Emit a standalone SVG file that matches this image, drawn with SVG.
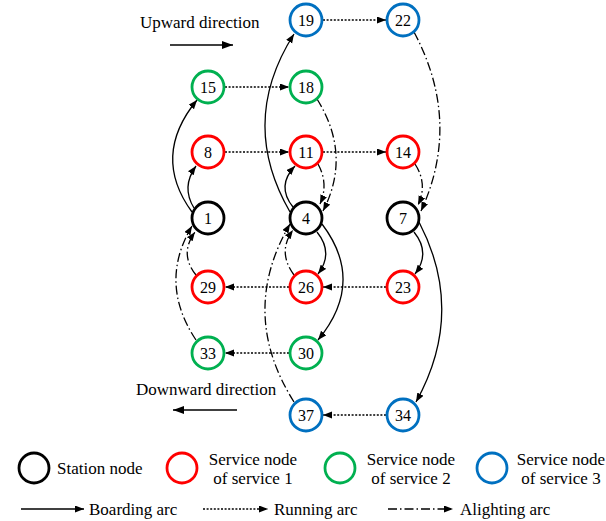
<svg xmlns="http://www.w3.org/2000/svg" width="606" height="521" viewBox="0 0 606 521">
<defs>
<marker id="ah" markerUnits="userSpaceOnUse" markerWidth="10" markerHeight="8" refX="9" refY="3.5" orient="auto">
<path d="M0,0 L9,3.5 L0,7 z" fill="#000"/>
</marker>
<marker id="ahb" markerUnits="userSpaceOnUse" markerWidth="12" markerHeight="9" refX="11" refY="4" orient="auto">
<path d="M0,0 L11,4 L0,8 z" fill="#000"/>
</marker>
<style>
.n{fill:#fff;stroke-width:2.8}
.st{stroke:#000}
.s1{stroke:#f00}
.s2{stroke:#00b050}
.s3{stroke:#0070c0}
.lbl{font-family:"Liberation Serif","Times New Roman",serif;font-size:16px;fill:#000;text-anchor:middle}
.t{font-family:"Liberation Serif","Times New Roman",serif;font-size:17px;fill:#000}
.b{fill:none;stroke:#000;stroke-width:1.3;marker-end:url(#ah)}
.r{fill:none;stroke:#000;stroke-width:1.3;stroke-dasharray:2 1.6;marker-end:url(#ah)}
.a{fill:none;stroke:#000;stroke-width:1.3;stroke-dasharray:9 3 1.5 3;marker-end:url(#ah)}
</style>
</defs>
<rect width="606" height="521" fill="#fff"/>

<g id="connectors">
<!-- running arcs -->
<path class="r" d="M323,20 L386,20"/>
<path class="r" d="M225,87 L289,87"/>
<path class="r" d="M225,152 L289,152"/>
<path class="r" d="M323,152 L386,152"/>
<path class="r" d="M386,287 L323,287"/>
<path class="r" d="M289,287 L225,287"/>
<path class="r" d="M289,353 L225,353"/>
<path class="r" d="M386,415 L323,415"/>
<!-- boarding arcs -->
<path class="b" d="M194,208 Q181,187 196,166"/>
<path class="b" d="M192,212 Q151,156 197,100"/>
<path class="b" d="M293,207 Q276,186 295,166"/>
<path class="b" d="M290,212 Q238,122 294,34"/>
<path class="b" d="M317,232 Q334,253 318,274"/>
<path class="b" d="M322,224 Q366,282 318,340"/>
<path class="b" d="M414,232 Q431,253 415,274"/>
<path class="b" d="M419,222 Q466,312 416,402"/>
<!-- alighting arcs -->
<path class="a" d="M318,164 Q329,184 320,204"/>
<path class="a" d="M317,99 Q352,155 323,211"/>
<path class="a" d="M415,164 Q428,184 418,205"/>
<path class="a" d="M414,32 Q462,122 421,211"/>
<path class="a" d="M196,275 Q179,254 195,232"/>
<path class="a" d="M196,340 Q158,283 192,226"/>
<path class="a" d="M294,275 Q277,252 293,230"/>
<path class="a" d="M294,402 Q238,313 290,224"/>
</g>

<g id="n19"><circle class="n s3" cx="306" cy="20" r="16"/><text class="lbl" x="306" y="26">19</text></g>
<g id="n22"><circle class="n s3" cx="403" cy="20" r="16"/><text class="lbl" x="403" y="26">22</text></g>
<g id="n15"><circle class="n s2" cx="208" cy="87" r="16"/><text class="lbl" x="208" y="93">15</text></g>
<g id="n18"><circle class="n s2" cx="306" cy="87" r="16"/><text class="lbl" x="306" y="93">18</text></g>
<g id="n8"><circle class="n s1" cx="208" cy="152" r="16"/><text class="lbl" x="208" y="158">8</text></g>
<g id="n11"><circle class="n s1" cx="306" cy="152" r="16"/><text class="lbl" x="306" y="158">11</text></g>
<g id="n14"><circle class="n s1" cx="403" cy="152" r="16"/><text class="lbl" x="403" y="158">14</text></g>
<g id="n1"><circle class="n st" cx="208" cy="218" r="16"/><text class="lbl" x="208" y="224">1</text></g>
<g id="n4"><circle class="n st" cx="306" cy="218" r="16"/><text class="lbl" x="306" y="224">4</text></g>
<g id="n7"><circle class="n st" cx="403" cy="218" r="16"/><text class="lbl" x="403" y="224">7</text></g>
<g id="n29"><circle class="n s1" cx="208" cy="287" r="16"/><text class="lbl" x="208" y="293">29</text></g>
<g id="n26"><circle class="n s1" cx="306" cy="287" r="16"/><text class="lbl" x="306" y="293">26</text></g>
<g id="n23"><circle class="n s1" cx="403" cy="287" r="16"/><text class="lbl" x="403" y="293">23</text></g>
<g id="n33"><circle class="n s2" cx="208" cy="353" r="16"/><text class="lbl" x="208" y="359">33</text></g>
<g id="n30"><circle class="n s2" cx="306" cy="353" r="16"/><text class="lbl" x="306" y="359">30</text></g>
<g id="n37"><circle class="n s3" cx="306" cy="415" r="16"/><text class="lbl" x="306" y="421">37</text></g>
<g id="n34"><circle class="n s3" cx="403" cy="415" r="16"/><text class="lbl" x="403" y="421">34</text></g>

<g id="directions">
<text class="t" x="140" y="28">Upward direction</text>
<path d="M170,45 L233,45" stroke="#000" stroke-width="1.5" fill="none" marker-end="url(#ahb)"/>
<text class="t" x="136" y="395">Downward direction</text>
<path d="M237,410 L173,410" stroke="#000" stroke-width="1.5" fill="none" marker-end="url(#ahb)"/>
</g>

<g id="legend">
<circle class="n st" cx="34" cy="468" r="15"/>
<text class="t" x="57" y="474">Station node</text>
<circle class="n s1" cx="182" cy="468" r="15"/>
<text class="t" x="253" y="465" text-anchor="middle">Service node</text>
<text class="t" x="253" y="484" text-anchor="middle">of service 1</text>
<circle class="n s2" cx="340" cy="468" r="15"/>
<text class="t" x="411" y="465" text-anchor="middle">Service node</text>
<text class="t" x="411" y="484" text-anchor="middle">of service 2</text>
<circle class="n s3" cx="492" cy="468" r="15"/>
<text class="t" x="561" y="465" text-anchor="middle">Service node</text>
<text class="t" x="561" y="484" text-anchor="middle">of service 3</text>
<path class="b" d="M21,509 L84,509"/>
<text class="t" x="89" y="515">Boarding arc</text>
<path class="r" d="M203,509 L268,509"/>
<text class="t" x="274" y="515">Running arc</text>
<path class="a" d="M388,509 L453,509"/>
<text class="t" x="460" y="515">Alighting arc</text>
</g>
</svg>
